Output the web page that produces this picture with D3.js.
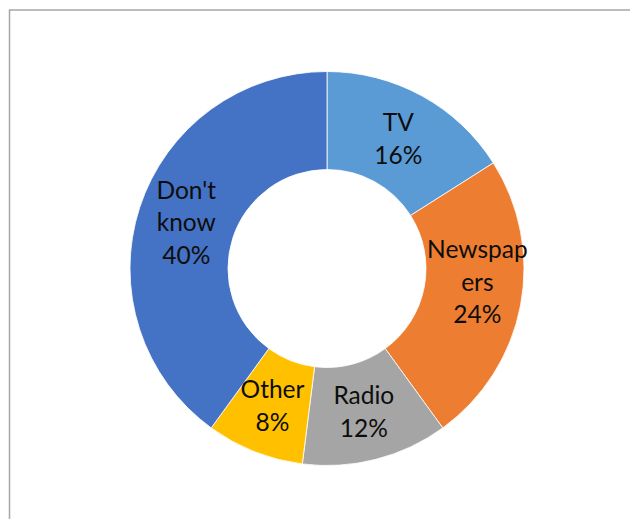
<!DOCTYPE html>
<html>
<head>
<meta charset="utf-8">
<script src="https://cdn.jsdelivr.net/npm/d3@7"></script>
<style>
  html, body { margin: 0; padding: 0; background: #fff; }
  svg { display: block; }
</style>
</head>
<body>
<script>
// Media source shares, drawn clockwise from 12 o'clock
const categories = ["TV", "Newspapers", "Radio", "Other", "Don't know"];
const values = [16, 24, 12, 8, 40];
// Label lines as they wrap inside each segment
const labelLines = [["TV"], ["Newspap", "ers"], ["Radio"], ["Other"], ["Don't", "know"]];
const colors = ["#5B9BD5", "#ED7D31", "#A5A5A5", "#FFC000", "#4472C4"];

const W = 630, H = 519;
const cx = 327, cy = 268.5;
const outerR = 197, innerR = 99;
const lineH = 32.5, capH = 17;

const svg = d3.select("body").append("svg")
  .attr("width", W).attr("height", H);

// chart area frame
svg.append("rect")
  .attr("x", 9.5).attr("y", 10)
  .attr("width", W + 20).attr("height", H + 20)
  .attr("fill", "#fff")
  .attr("stroke", "#a6a6a6")
  .attr("stroke-width", 1.5);

const total = d3.sum(values);
const pie = d3.pie().value(d => d.value).sort(null);
const arcs = pie(categories.map((c, i) => ({ name: c, value: values[i], i })));

const arc = d3.arc().innerRadius(innerR).outerRadius(outerR);

const g = svg.append("g").attr("transform", `translate(${cx},${cy})`);

g.selectAll("path.slice")
  .data(arcs)
  .join("path")
  .attr("class", "slice")
  .attr("d", arc)
  .attr("fill", d => colors[d.data.i])
  .attr("stroke", "#fff")
  .attr("stroke-width", 0.8);

// data labels: category name plus percentage, centred on each segment
const labels = g.selectAll("text.label")
  .data(arcs)
  .join("text")
  .attr("class", "label")
  .attr("font-family", "Lato, 'Open Sans', sans-serif")
  .attr("font-size", 24.5)
  .attr("fill", "#0d0d0d")
  .attr("text-anchor", "middle");

labels.each(function(d) {
  const [x0, y0] = arc.centroid(d);
  const pct = Math.round(d.data.value / total * 100) + "%";
  const lines = labelLines[d.data.i].concat([pct]);
  const n = lines.length;
  // a label split mid-word sits a little higher and further out
  const split = d.data.name.indexOf(" ") < 0 && labelLines[d.data.i].length > 1;
  const x = split ? x0 + 5 : x0;
  const y = split ? y0 - 14 : y0;
  const firstBase = y - (n - 1) * lineH / 2 + capH / 2;
  const t = d3.select(this);
  lines.forEach((ln, k) => {
    t.append("tspan")
      .attr("x", x)
      .attr("y", firstBase + k * lineH)
      .text(ln);
  });
});
</script>
</body>
</html>
